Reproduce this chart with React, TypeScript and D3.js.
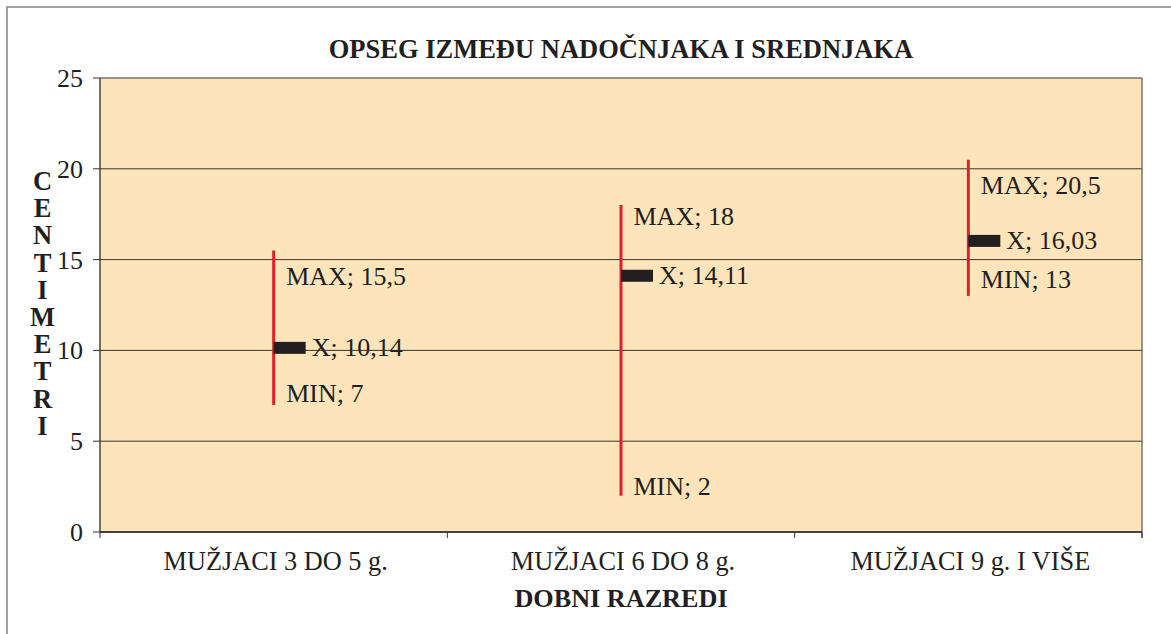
import React from "react";
import * as d3 from "d3";

const categories = ["MUŽJACI 3 DO 5 g.", "MUŽJACI 6 DO 8 g.", "MUŽJACI 9 g. I VIŠE"];
const maxValues = [15.5, 18, 20.5];
const minValues = [7, 2, 13];
const meanValues = [10.14, 14.11, 16.03];
const maxLabels = ["15,5", "18", "20,5"];
const minLabels = ["7", "2", "13"];
const meanLabels = ["10,14", "14,11", "16,03"];
const yTicks = [0, 5, 10, 15, 20, 25];
const title = "OPSEG IZMEĐU NADOČNJAKA I SREDNJAKA";
const xTitle = "DOBNI RAZREDI";
const yTitle = "CENTIMETRI";

// style: label vertical offsets (px) relative to value position
const maxLabelDy = [34, 20, 34];
const minLabelDy = [-3, -1, -8];

const W = 1171;
const H = 634;
const plot = { left: 100, right: 1142, top: 78, bottom: 532 };
const FONT = '"Liberation Serif", "Times New Roman", Times, serif';
const BG = "#FDE4BB";
const RED = "#E0202A";
const TXT = "#231F20";

export default function App() {
  const x = d3.scaleBand<string>().domain(categories).range([plot.left, plot.right]).padding(0);
  const y = d3.scaleLinear().domain([0, 25]).range([plot.bottom, plot.top]);
  const bounds = [plot.left, ...categories.map((c) => (x(c) as number) + x.bandwidth())];

  return (
    <svg width={W} height={H} style={{ position: "absolute", left: 0, top: 0, background: "#fff", fontFamily: FONT }}>
      <rect x={7} y={7} width={W} height={H} fill="#fff" stroke="#8a8a8a" strokeWidth={1.6} />
      <rect x={plot.left} y={plot.top} width={plot.right - plot.left} height={plot.bottom - plot.top} fill={BG} />
      {yTicks.map((t) => (
        <g key={t}>
          <line x1={plot.left - 7} x2={plot.right} y1={y(t)} y2={y(t)} stroke="#3a3330" strokeWidth={1} />
          <text x={83} y={y(t) + 9} textAnchor="end" fontSize={26} fill={TXT}>{t}</text>
        </g>
      ))}
      <line x1={plot.left} x2={plot.left} y1={plot.top} y2={plot.bottom} stroke="#2a2a2a" strokeWidth={1.3} />
      <line x1={plot.right} x2={plot.right} y1={plot.top} y2={plot.bottom + 6} stroke="#6b5e55" strokeWidth={1.3} />
      <line x1={plot.left} x2={plot.right} y1={plot.bottom} y2={plot.bottom} stroke="#2a2a2a" strokeWidth={1.5} />
      {bounds.map((b, i) => (
        <line key={i} x1={b} x2={b} y1={plot.bottom} y2={plot.bottom + 6} stroke="#3a3330" strokeWidth={1} />
      ))}
      {categories.map((c, i) => {
        const cx = (x(c) as number) + x.bandwidth() / 2;
        return (
          <g key={c}>
            <text x={cx + 2} y={570} textAnchor="middle" fontSize={26.3} fill={TXT}>{c}</text>
            <line x1={cx} x2={cx} y1={y(maxValues[i])} y2={y(minValues[i])} stroke={RED} strokeWidth={3} />
            <rect x={cx} y={y(meanValues[i]) - 6} width={32} height={12} fill={TXT} />
            <text x={cx + 12.5} y={y(maxValues[i]) + maxLabelDy[i]} fontSize={26} fill={TXT}>{"MAX; " + maxLabels[i]}</text>
            <text x={cx + 38} y={y(meanValues[i]) + 8.5} fontSize={26} fill={TXT}>{"X; " + meanLabels[i]}</text>
            <text x={cx + 12.5} y={y(minValues[i]) + minLabelDy[i]} fontSize={26} fill={TXT}>{"MIN; " + minLabels[i]}</text>
          </g>
        );
      })}
      <text x={621} y={58} textAnchor="middle" fontSize={26.5} fontWeight="bold" fill={TXT}>{title}</text>
      <text x={621} y={607} textAnchor="middle" fontSize={26.2} fontWeight="bold" fill={TXT}>{xTitle}</text>
      {yTitle.split("").map((ch, i) => (
        <text key={i} x={42.5} y={190 + i * 27.2} textAnchor="middle" fontSize={26.5} fontWeight="bold" fill={TXT}>{ch}</text>
      ))}
    </svg>
  );
}
